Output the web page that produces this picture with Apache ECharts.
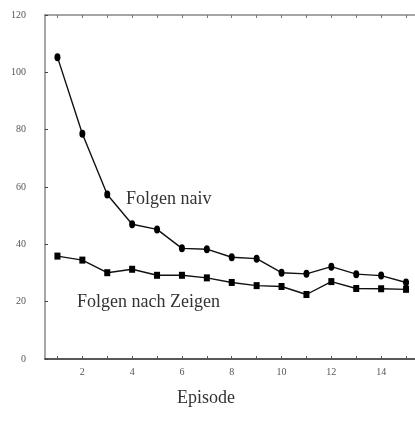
<!DOCTYPE html>
<html>
<head>
<meta charset="utf-8">
<script src="https://cdn.jsdelivr.net/npm/echarts@6/dist/echarts.min.js"></script>
<style>
html,body{margin:0;padding:0;background:#fff;}
#c{width:415px;height:435px;}
</style>
</head>
<body>
<div id="c"></div>
<script>
const episodes = [1,2,3,4,5,6,7,8,9,10,11,12,13,14,15];
const naiv = [105.3, 78.6, 57.4, 47.0, 45.2, 38.6, 38.3, 35.5, 35.0, 30.1, 29.7, 32.2, 29.6, 29.1, 26.7];
const zeigen = [35.9, 34.5, 30.1, 31.3, 29.2, 29.2, 28.3, 26.7, 25.6, 25.3, 22.5, 27.0, 24.6, 24.5, 24.3];
const xTickLabels = [2,4,6,8,10,12,14];
const yTicks = [0,20,40,60,80,100,120];

const serif = '"Liberation Serif", "DejaVu Serif", serif';
const chart = echarts.init(document.getElementById('c'));
chart.setOption({
  backgroundColor: '#fff',
  animation: false,
  grid: {left: 45, right: 0, top: 15, bottom: 76},
  xAxis: [{
    type: 'value', position: 'bottom', min: 0.5, max: 15.36,
    axisLine: {show: true, lineStyle: {color: '#222', width: 1.5}},
    axisTick: {show: true, inside: true, length: 3, customValues: episodes, lineStyle: {color: '#555'}},
    axisLabel: {customValues: xTickLabels, margin: 8, color: '#555', fontFamily: serif, fontSize: 10},
    splitLine: {show: false}
  }, {
    type: 'value', position: 'top', min: 0.5, max: 15.36,
    axisLine: {show: true, lineStyle: {color: '#888', width: 1.5}},
    axisTick: {show: true, inside: true, length: 3, customValues: episodes, lineStyle: {color: '#777'}},
    axisLabel: {show: false},
    splitLine: {show: false}
  }],
  yAxis: {
    type: 'value', min: 0, max: 120, interval: 20,
    axisLine: {show: true, lineStyle: {color: '#888', width: 1.5}},
    axisTick: {show: true, inside: true, length: 3, lineStyle: {color: '#444'}},
    axisLabel: {margin: 19, color: '#555', fontFamily: serif, fontSize: 10},
    splitLine: {show: false}
  },
  series: [{
    type: 'line', xAxisIndex: 0,
    data: episodes.map((e, i) => [e, naiv[i]]),
    symbol: 'circle', symbolSize: [6, 8],
    lineStyle: {color: '#111', width: 1.4},
    itemStyle: {color: '#000'}
  }, {
    type: 'line', xAxisIndex: 0,
    data: episodes.map((e, i) => [e, zeigen[i]]),
    symbol: 'rect', symbolSize: [6, 7],
    lineStyle: {color: '#111', width: 1.4},
    itemStyle: {color: '#000'}
  }],
  graphic: [
    {type: 'text', left: 126, top: 190, style: {text: 'Folgen naiv', font: '18px ' + serif, fill: '#333'}},
    {type: 'text', left: 77, top: 293, style: {text: 'Folgen nach Zeigen', font: '18px ' + serif, fill: '#333'}},
    {type: 'text', left: 177, top: 389, style: {text: 'Episode', font: '18px ' + serif, fill: '#333'}}
  ]
});
</script>
</body>
</html>
